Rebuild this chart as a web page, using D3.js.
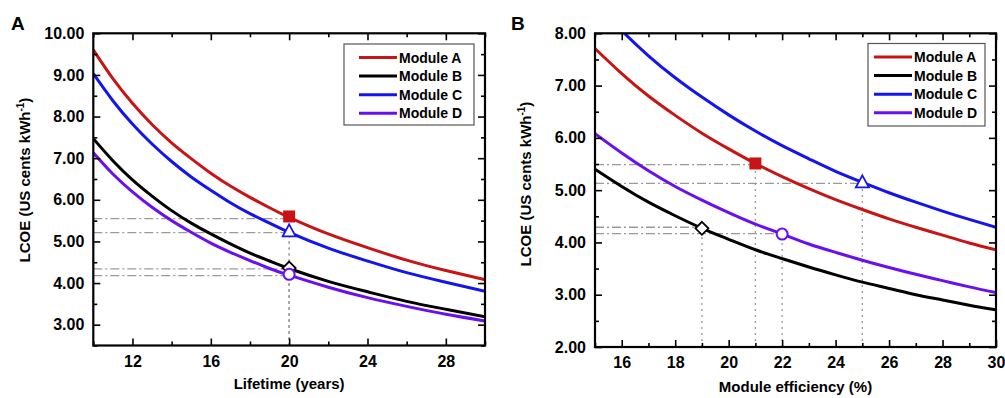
<!DOCTYPE html>
<html><head><meta charset="utf-8">
<script src="https://cdn.jsdelivr.net/npm/d3@7"></script>
<style>
body{margin:0;background:#fff;}
svg text{font-family:"Liberation Sans",Arial,sans-serif;font-weight:bold;fill:#000;}
</style></head>
<body><svg id="chart" width="1005" height="398"></svg>
<script>
// ---------- data ----------
const seriesNames = ["Module A","Module B","Module C","Module D"];
const seriesColors = ["#c81414","#000000","#1414f0","#6a0ff0"];
const seriesMarkers = ["square","diamond","triangle","circle"];

const lifetimeYears = [10,11,12,13,14,15,16,17,18,19,20,22,24,26,28,30];
const lifetimeA = [9.60,8.91,8.32,7.81,7.37,6.99,6.64,6.33,6.06,5.81,5.58,5.18,4.85,4.55,4.30,4.08];
const lifetimeB = [7.47,6.94,6.48,6.09,5.74,5.44,5.18,4.94,4.72,4.53,4.35,4.04,3.79,3.56,3.37,3.19];
const lifetimeC = [9.03,8.38,7.82,7.34,6.92,6.55,6.23,5.93,5.67,5.44,5.22,4.84,4.53,4.25,4.02,3.80];
const lifetimeD = [7.13,6.62,6.19,5.82,5.50,5.22,4.96,4.74,4.54,4.35,4.19,3.90,3.65,3.44,3.25,3.09];
const lifetimeMarkX = [20,20,20,20];
const lifetimeMarkY = [5.60,4.36,5.24,4.21];
const lifetimeRefY = [5.55,4.34,5.21,4.18];

const efficiencyPct = [15,16,17,18,19,20,21,22,23,24,25,26,27,28,29,30];
const efficiencyA = [7.71,7.23,6.80,6.43,6.09,5.79,5.51,5.26,5.03,4.82,4.63,4.45,4.29,4.14,3.99,3.86];
const efficiencyB = [5.40,5.07,4.77,4.51,4.27,4.06,3.86,3.69,3.53,3.38,3.24,3.12,3.00,2.90,2.80,2.71];
const efficiencyC = [8.58,8.05,7.57,7.15,6.78,6.44,6.13,5.85,5.60,5.36,5.15,4.95,4.77,4.60,4.44,4.29];
const efficiencyD = [6.08,5.71,5.37,5.07,4.81,4.57,4.35,4.16,3.97,3.81,3.66,3.52,3.39,3.27,3.15,3.04];
const efficiencyMarkX = [21,19,25,22];
const efficiencyMarkY = [5.51,4.27,5.15,4.16];
const efficiencyRefY = [5.49,4.29,5.13,4.17];

const lifetimeTicks = [12,16,20,24,28];
const lifetimeMinor = [10,14,18,22,26,30];
const lifetimeYTicks = [3,4,5,6,7,8,9,10];
const lifetimeYMinor = [2.5,3.5,4.5,5.5,6.5,7.5,8.5,9.5];
const efficiencyTicks = [16,18,20,22,24,26,28,30];
const efficiencyMinor = [15,17,19,21,23,25,27,29];
const efficiencyYTicks = [2,3,4,5,6,7,8];
const efficiencyYMinor = [2.5,3.5,4.5,5.5,6.5,7.5];

// ---------- drawing ----------
const svg = d3.select("#chart");

function panel(cfg){
  const g = svg.append("g");
  const x = d3.scaleLinear().domain(cfg.xDomain).range([cfg.left,cfg.right]);
  const y = d3.scaleLinear().domain(cfg.yDomain).range([cfg.bottom,cfg.top]);
  const clipId = "clip"+cfg.id;
  svg.append("clipPath").attr("id",clipId).append("rect")
    .attr("x",cfg.left).attr("y",cfg.top).attr("width",cfg.right-cfg.left).attr("height",cfg.bottom-cfg.top);

  // reference lines
  cfg.markX.forEach((mx,i)=>{
    g.append("line").attr("x1",x(cfg.xDomain[0])).attr("x2",x(mx))
      .attr("y1",y(cfg.refY[i])).attr("y2",y(cfg.refY[i]))
      .attr("stroke","#9a9a9a").attr("stroke-width",1.3).attr("stroke-dasharray","9,3,2,3");
    g.append("line").attr("x1",x(mx)).attr("x2",x(mx))
      .attr("y1",y(cfg.yDomain[0])).attr("y2",y(cfg.markY[i]))
      .attr("stroke","#9a9a9a").attr("stroke-width",1.3).attr("stroke-dasharray","2,4");
  });

  // curves
  const line = d3.line().x((d,i)=>x(cfg.xs[i])).y(d=>y(d)).curve(d3.curveNatural);
  const cg = g.append("g").attr("clip-path",`url(#${clipId})`);
  [1,3,2,0].forEach(k=>{
    cg.append("path").attr("d",line(cfg.series[k])).attr("fill","none")
      .attr("stroke",seriesColors[k]).attr("stroke-width",3);
  });

  // axes (ticks inward on all four sides)
  const fmt = d3.format(".2f");
  const H = cfg.bottom, T = cfg.top, L = cfg.left, R = cfg.right;
  const addAxis = (axis, tr, labels) => {
    const a = g.append("g").attr("transform",tr).call(axis);
    a.select(".domain").remove();
    a.selectAll(".tick line").attr("stroke","#000").attr("stroke-width",1.6);
    if(!labels) a.selectAll(".tick text").remove();
    else a.selectAll(".tick text").attr("font-size",16).attr("fill","#000").attr("font-family",'"Liberation Sans",Arial,sans-serif').attr("font-weight","bold");
    return a;
  };
  addAxis(d3.axisBottom(x).tickValues(cfg.xTicks).tickSize(-7).tickPadding(10).tickFormat(d3.format("d")),`translate(0,${H})`,true);
  addAxis(d3.axisBottom(x).tickValues(cfg.xMinor).tickSize(-4),`translate(0,${H})`,false);
  addAxis(d3.axisTop(x).tickValues(cfg.xTicks).tickSize(-7),`translate(0,${T})`,false);
  addAxis(d3.axisTop(x).tickValues(cfg.xMinor).tickSize(-4),`translate(0,${T})`,false);
  addAxis(d3.axisLeft(y).tickValues(cfg.yTicks).tickSize(-7).tickPadding(9).tickFormat(fmt),`translate(${L},0)`,true);
  addAxis(d3.axisLeft(y).tickValues(cfg.yMinor).tickSize(-4),`translate(${L},0)`,false);
  addAxis(d3.axisRight(y).tickValues(cfg.yTicks).tickSize(-7),`translate(${R},0)`,false);
  addAxis(d3.axisRight(y).tickValues(cfg.yMinor).tickSize(-4),`translate(${R},0)`,false);
  g.append("rect").attr("x",L).attr("y",T).attr("width",R-L).attr("height",H-T)
    .attr("fill","none").attr("stroke","#000").attr("stroke-width",2.2);

  // markers
  cfg.markX.forEach((mx,i)=>{
    const px = x(mx), py = y(cfg.markY[i]), c = seriesColors[i];
    const m = seriesMarkers[i];
    if(m==="square") g.append("rect").attr("x",px-6).attr("y",py-6).attr("width",12).attr("height",12).attr("fill",c);
    else if(m==="diamond") g.append("path").attr("d",`M${px},${py-6.5}L${px+6.5},${py}L${px},${py+6.5}L${px-6.5},${py}Z`).attr("fill","#fff").attr("stroke",c).attr("stroke-width",1.8);
    else if(m==="triangle") g.append("path").attr("d",`M${px},${py-7}L${px+6.5},${py+5}L${px-6.5},${py+5}Z`).attr("fill","#fff").attr("stroke",c).attr("stroke-width",1.8);
    else g.append("circle").attr("cx",px).attr("cy",py).attr("r",5.5).attr("fill","#fff").attr("stroke",c).attr("stroke-width",2);
  });

  // legend
  const lg = g.append("g");
  lg.append("rect").attr("x",cfg.leg.x0).attr("y",cfg.leg.y0).attr("width",cfg.leg.x1-cfg.leg.x0).attr("height",cfg.leg.y1-cfg.leg.y0)
    .attr("fill","#fff").attr("stroke","#555").attr("stroke-width",1.2);
  seriesNames.forEach((n,i)=>{
    const yy = cfg.leg.rowY + i*18.6;
    lg.append("line").attr("x1",cfg.leg.lx0).attr("x2",cfg.leg.lx1).attr("y1",yy).attr("y2",yy)
      .attr("stroke",seriesColors[i]).attr("stroke-width",3);
    lg.append("text").attr("x",cfg.leg.tx).attr("y",yy).attr("dy","0.36em").attr("font-size",14).text(n);
  });

  // titles
  g.append("text").attr("x",(L+R)/2).attr("y",cfg.xTitleY).attr("text-anchor","middle").attr("font-size",15).text(cfg.xTitle);
  const yt = g.append("text").attr("transform",`translate(${cfg.yTitleX},${cfg.yTitleY}) rotate(-90)`)
    .attr("text-anchor","middle").attr("font-size",15);
  yt.append("tspan").text("LCOE (US cents kWh");
  yt.append("tspan").attr("font-size",10).attr("dy",-6).text("-1");
  yt.append("tspan").attr("dy",6).text(")");
  g.append("text").attr("x",cfg.tagX).attr("y",30).attr("font-size",19).text(cfg.tag);
}

panel({id:"A", tag:"A", tagX:11,
  xDomain:[10,30], yDomain:[2.5,10], left:93.3, right:485, top:33.3, bottom:345.5,
  xs:lifetimeYears, series:[lifetimeA,lifetimeB,lifetimeC,lifetimeD],
  markX:lifetimeMarkX, markY:lifetimeMarkY, refY:lifetimeRefY,
  xTicks:lifetimeTicks, xMinor:lifetimeMinor, yTicks:lifetimeYTicks, yMinor:lifetimeYMinor,
  xTitle:"Lifetime (years)", xTitleY:389, yTitleX:30, yTitleY:180,
  leg:{x0:344, x1:474, y0:44, y1:125, lx0:359, lx1:397, tx:399, rowY:57.5}
});
panel({id:"B", tag:"B", tagX:511,
  xDomain:[15,30], yDomain:[2,8], left:595, right:996, top:33.3, bottom:347,
  xs:efficiencyPct, series:[efficiencyA,efficiencyB,efficiencyC,efficiencyD],
  markX:efficiencyMarkX, markY:efficiencyMarkY, refY:efficiencyRefY,
  xTicks:efficiencyTicks, xMinor:efficiencyMinor, yTicks:efficiencyYTicks, yMinor:efficiencyYMinor,
  xTitle:"Module efficiency (%)", xTitleY:392, yTitleX:531, yTitleY:184,
  leg:{x0:868, x1:985, y0:43.5, y1:126, lx0:874, lx1:912, tx:914, rowY:57}
});
</script></body></html>
